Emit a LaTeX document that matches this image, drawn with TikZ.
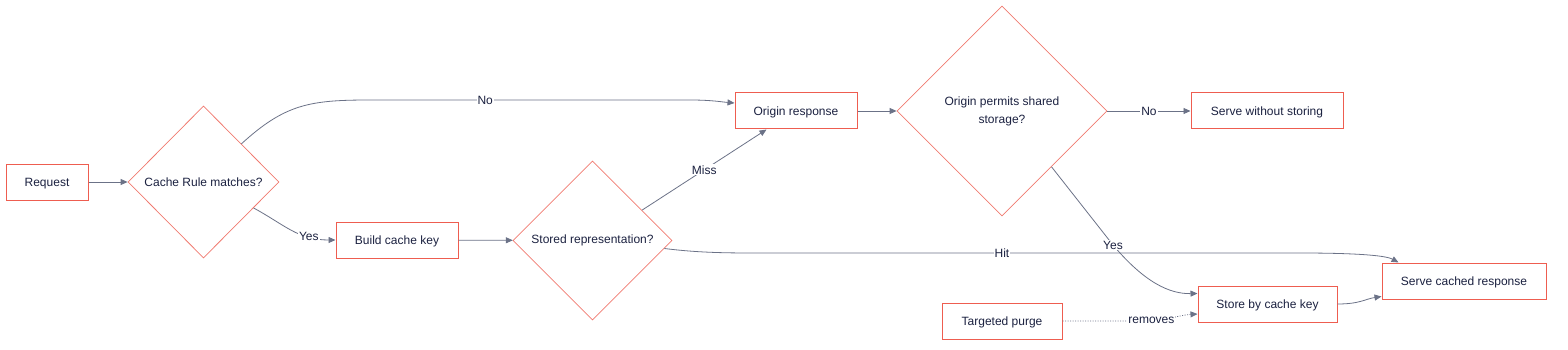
\documentclass[tikz,border=0pt]{standalone}
\usepackage{fontspec}
\setmainfont{Liberation Sans}
\usetikzlibrary{shapes.geometric,arrows.meta,calc}
\definecolor{boxred}{HTML}{EE5D50}
\definecolor{diared}{HTML}{F07A70}
\definecolor{edgegray}{HTML}{6B7287}
\definecolor{txt}{HTML}{1B2140}
\tikzset{
  box/.style={draw=boxred, line width=1pt, fill=white, minimum height=36pt, inner sep=0pt, text height=8.6pt, text depth=0pt, text=txt, font=\fontsize{12}{14}\selectfont},
  dia/.style={diamond, draw=diared, line width=0.75pt, inner sep=0pt, text=txt, align=center, font=\fontsize{12}{18}\selectfont},
  conn/.style={draw=edgegray, line width=0.8pt, -{Triangle[length=7pt,width=6pt]}},
  lbl/.style={fill=white, text=txt, inner sep=1pt, font=\fontsize{12}{14}\selectfont},
}
\begin{document}
\begin{tikzpicture}[x=1pt,y=-1pt]
\useasboundingbox (0,0) rectangle (1568,350);
% nodes
\node[box, minimum width=82pt] (req) at (47,182) {Request};
\node[dia, minimum width=151pt, minimum height=152pt] (cr) at (203.5,182) {Cache Rule matches?};
\node[box, minimum width=122pt] (bk) at (397,240) {Build cache key};
\node[dia, minimum width=159pt, minimum height=159pt] (sr) at (592.5,240.5) {Stored representation?};
\node[box, minimum width=122pt] (or) at (796,111) {Origin response};
\node[dia, minimum width=210pt, minimum height=210pt] (op) at (1002,111) {Origin permits shared\\storage?};
\node[box, minimum width=152pt] (sw) at (1267,111) {Serve without storing};
\node[box, minimum width=164pt, minimum height=36pt] (sc) at (1464,281) {Serve cached response};
\node[box, minimum width=139pt] (sk) at (1267.5,304) {Store by cache key};
\node[box, minimum width=120pt] (tp) at (1002,321) {Targeted purge};
% connectors
\draw[conn] (req) -- (cr);
\draw[conn] (cr.north east) .. controls (285,104) and (310,100) .. (370,100)
   -- node[lbl, pos=0.36] {No} (690,100) .. controls (712,100) and (722,102) .. ($(or.west)+(0,-8)$);
\draw[conn] ($(cr.east)!0.34!(cr.south)$) .. controls (285,225) and (298,240) .. node[lbl, pos=0.72] {Yes} (bk.west);
\draw[conn] (bk) -- (sr);
\draw[conn] ($(sr.north)!0.62!(sr.east)$) -- node[lbl] {Miss} ($(or.south west)+(32,0)$);
\draw[conn] ($(sr.east)!0.1!(sr.south)$) .. controls (700,253) and (730,253) .. (760,253)
   -- node[lbl, pos=0.448] {Hit} (1300,253) .. controls (1350,253) and (1385,255) .. ($(sc.north west)+(17,0)$);
\draw[conn] (or) -- (op);
\draw[conn] (op) -- node[lbl] {No} (sw);
\draw[conn] ($(op.east)!0.53!(op.south)$) -- node[lbl, pos=1] {Yes} (1113,245)
   .. controls (1145,283) and (1170,294) .. ($(sk.north west)+(0,8)$);
\draw[conn] (sk.east) .. controls (1360,304) and (1365,299) .. ($(sc.south west)+(0,-3)$);
\draw[conn, dash pattern=on 1pt off 1.5pt] (tp.east) -- (1135,321)
   .. controls (1165,321) and (1180,315) .. node[lbl, pos=0.2] {removes} ($(sk.west)+(0,10)$);
\end{tikzpicture}
\end{document}
